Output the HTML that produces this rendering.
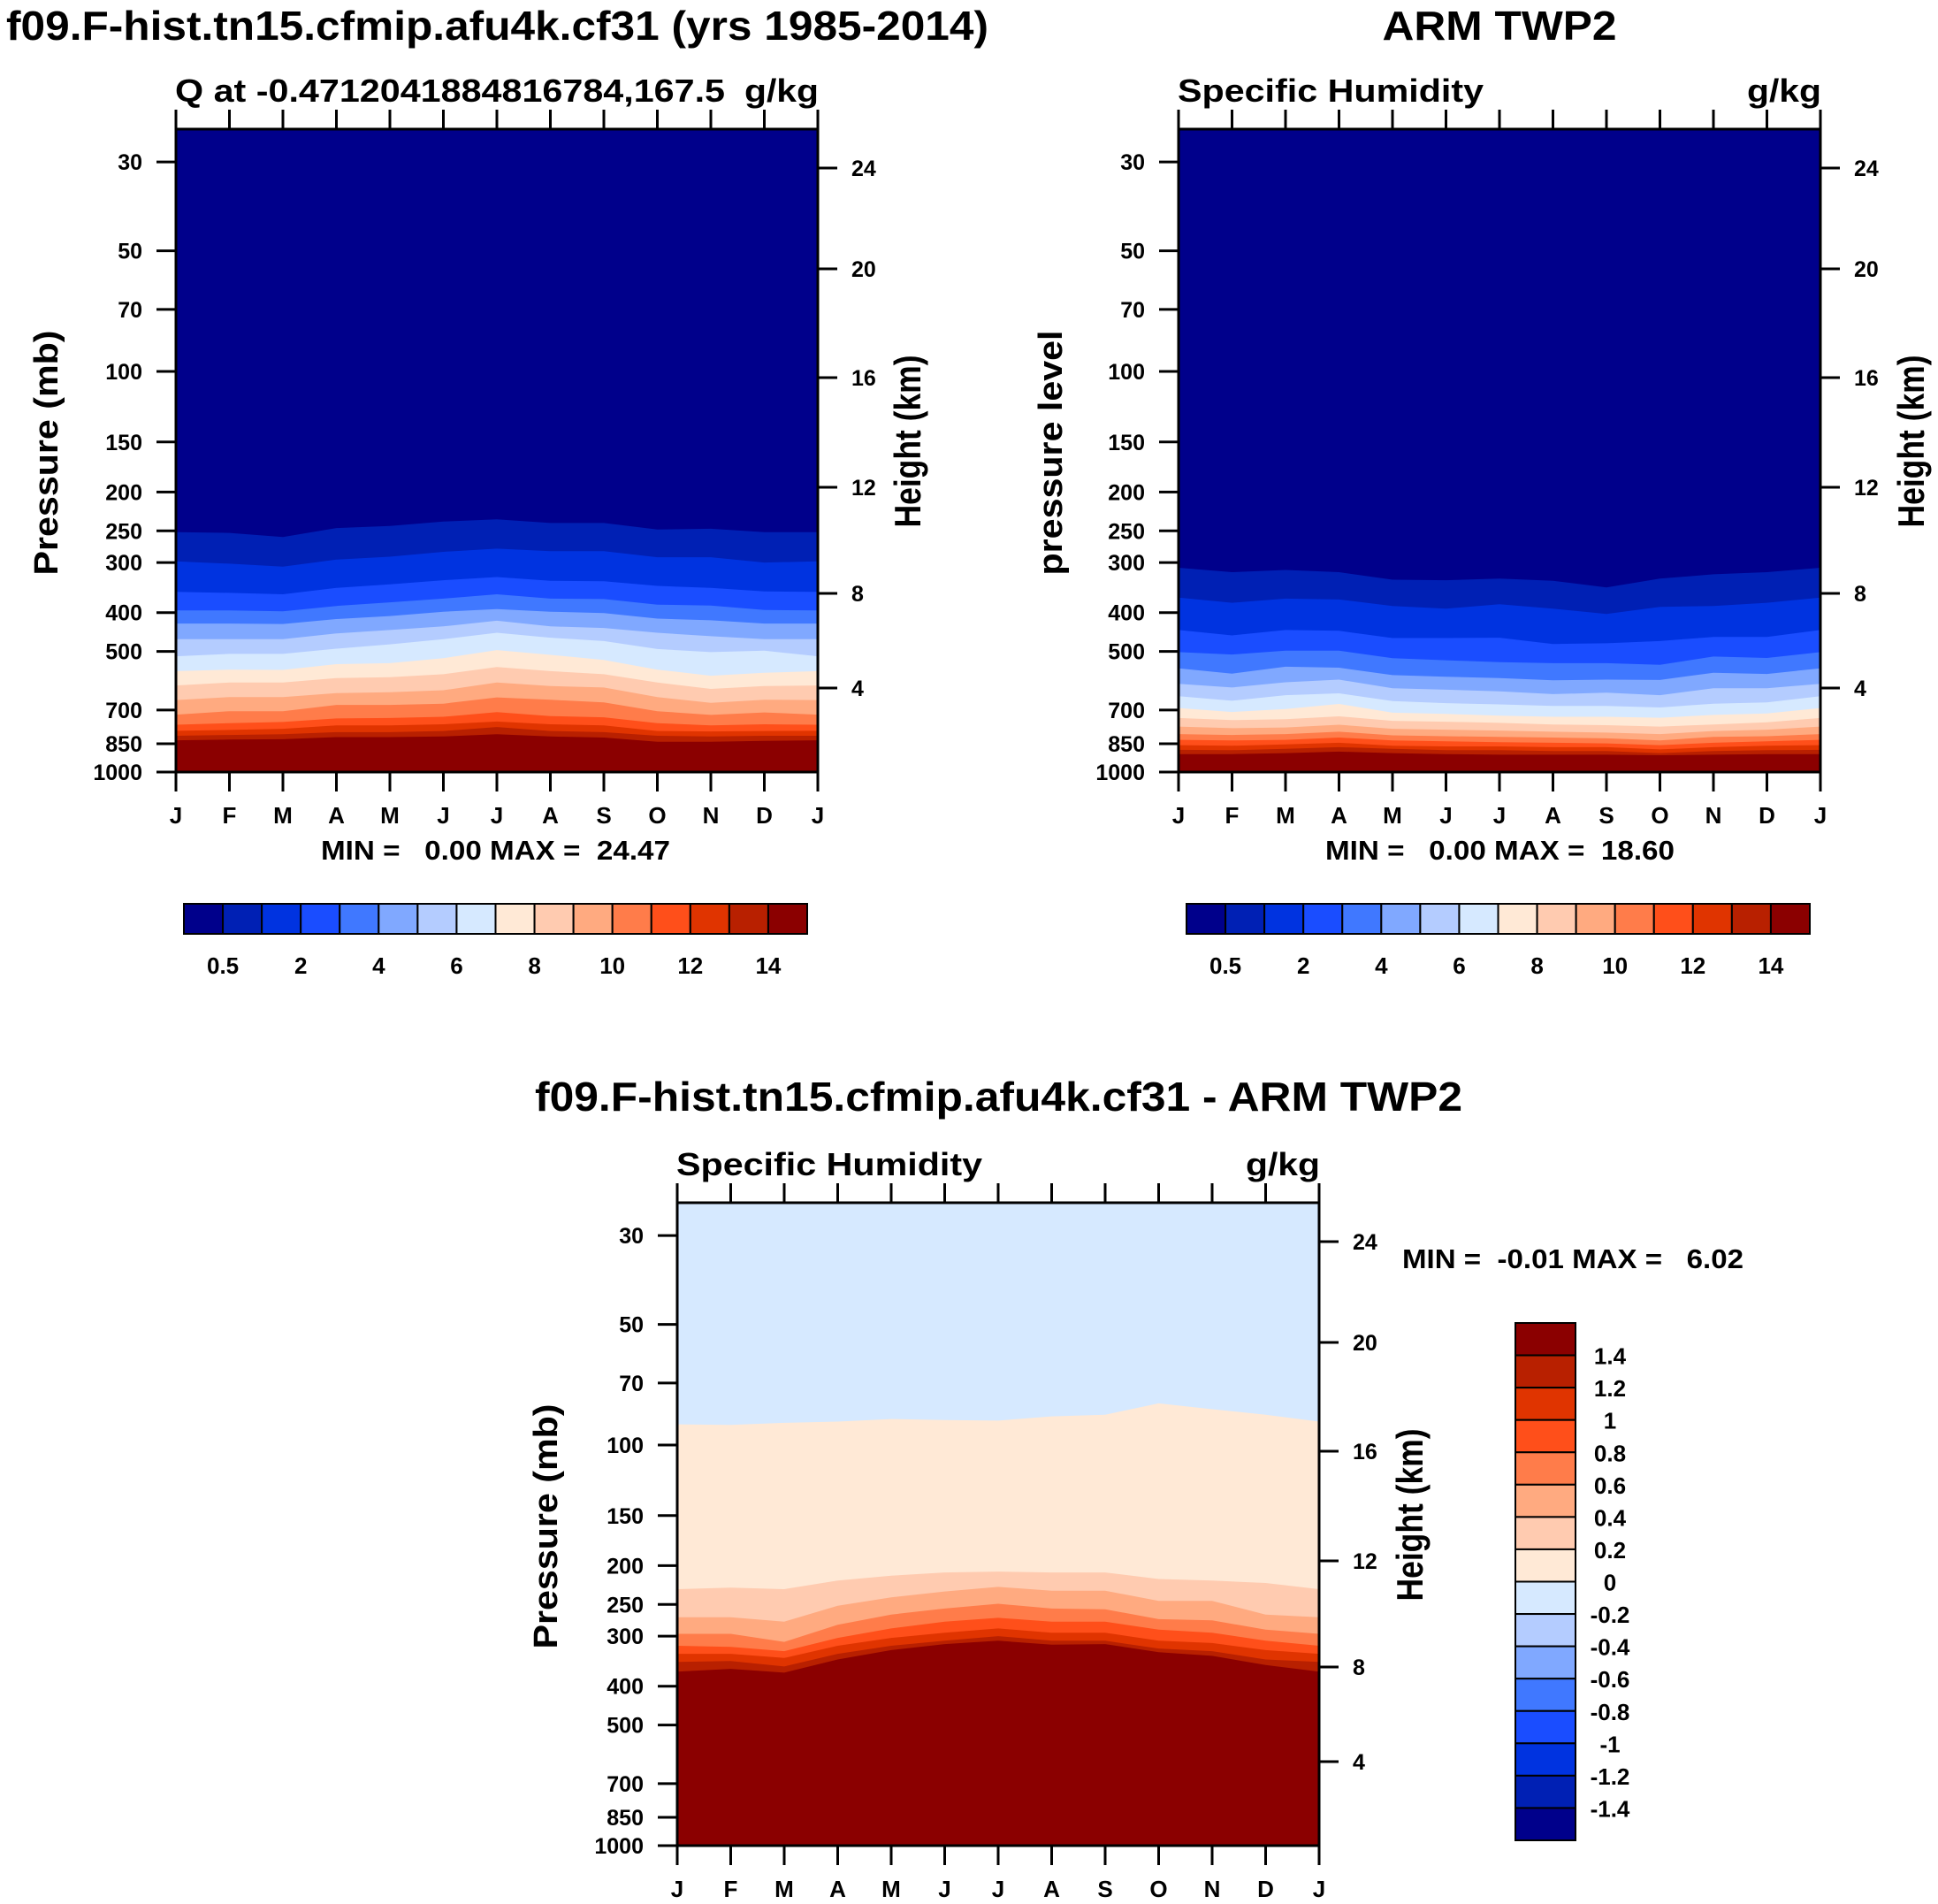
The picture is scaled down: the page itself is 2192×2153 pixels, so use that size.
<!DOCTYPE html>
<html><head><meta charset="utf-8"><style>
html,body{margin:0;padding:0;background:#fff;}
svg{display:block;font-family:"Liberation Sans",sans-serif;font-weight:bold;}
text{white-space:pre;}
</style></head><body>
<svg id="fig" width="2192" height="2153" viewBox="0 0 2192 2153" xmlns="http://www.w3.org/2000/svg"></svg>
<script>
const months = ["J","F","M","A","M","J","J","A","S","O","N","D","J"];
const pressureTicks = [30,50,70,100,150,200,250,300,400,500,700,850,1000];
const heightTicks = [24,20,16,12,8,4];
const palette = ["#00008b","#0020b4","#0033e0","#1a4dff","#4078ff","#80a8ff","#b4ccff","#d6e9ff","#ffe9d6","#ffcbb0","#ffaa80","#ff7c4a","#ff4f1a","#e03400","#b82000","#8b0000"];
const levelsQ = [0.5,1,2,3,4,5,6,7,8,9,10,11,12,13,14];
const cbLabelsQ = ["0.5","2","4","6","8","10","12","14"];
const levelsDiff = ["1.4","1.2","1","0.8","0.6","0.4","0.2","0","-0.2","-0.4","-0.6","-0.8","-1","-1.2","-1.4"];
// Model contour boundary pressures (mb) per month, one array per level
const model = [
[252,253,259,246,243,237,234,239,239,248,247,252,252],
[298,302,307,295,290,282,277,281,281,291,291,300,298],
[355,357,360,347,340,332,326,333,334,343,347,354,355],
[395,395,397,385,377,369,360,369,370,382,384,394,395],
[426,426,427,415,408,398,392,398,401,414,418,426,426],
[466,466,466,451,442,433,419,433,437,449,458,466,466],
[514,507,507,492,480,466,449,462,471,493,502,498,514],
[560,555,556,538,535,520,496,510,525,555,575,565,560],
[608,598,598,583,580,570,547,560,570,598,620,610,608],
[661,650,650,635,632,625,598,610,615,650,672,660,661],
[719,705,705,680,680,675,651,660,670,705,720,710,719],
[762,755,750,735,733,728,709,725,730,755,765,760,762],
[789,785,780,765,765,760,748,760,765,790,792,790,789],
[812,808,805,795,795,790,772,790,795,812,815,812,812],
[833,830,828,818,818,815,805,815,820,840,840,836,833]];
// ARM TWP2 boundaries
const obs = [
[309,317,313,317,331,332,329,333,346,329,321,317,309],
[367,378,369,371,385,391,381,391,403,387,385,378,367],
[442,456,442,444,463,463,462,479,477,471,460,460,442],
[502,509,498,498,520,526,532,535,535,540,515,519,502],
[551,568,546,549,573,578,583,590,588,589,565,569,551],
[602,615,597,588,618,623,629,639,634,643,618,618,602],
[647,664,643,636,665,673,678,684,684,690,675,670,647],
[692,708,696,676,711,716,723,728,728,732,720,714,692],
[733,742,738,726,745,749,754,761,764,770,761,751,733],
[770,777,774,762,780,784,788,793,797,804,790,784,770],
[804,808,804,793,810,814,817,820,824,834,817,814,804],
[831,834,831,820,834,838,842,845,848,857,845,838,831],
[857,860,853,845,860,863,863,867,867,878,867,860,857],
[880,882,875,867,875,882,882,886,886,897,886,882,880],
[902,902,897,889,897,902,905,905,905,908,905,902,902]];
// Difference boundaries for levels 0,0.2,...,1.4
const diff = [
[88.8,89.1,88,87.4,86.1,86.6,86.9,84.8,84,78.7,81.4,84,87.4],
[229,227,229,218,212,208,207,208,208,216,218,221,229],
[269,269,276,252,240,232,226,231,231,245,245,265,269],
[296,296,310,281,265,256,249,256,257,272,274,289,296],
[317,319,327,303,287,276,270,276,276,289,294,308,317],
[332,332,340,317,303,294,287,294,294,308,312,325,332],
[348,346,357,332,317,308,300,308,308,322,327,343,348],
[368,362,370,343,325,314,308,315,314,329,336,354,368]];

const NS="http://www.w3.org/2000/svg";
const svg=document.getElementById('fig');
function el(tag,attrs,parent,txt){const e=document.createElementNS(NS,tag);for(const k in attrs)e.setAttribute(k,attrs[k]);if(txt!==undefined)e.textContent=txt;(parent||svg).appendChild(e);return e;}
function txt(x,y,s,size,anchor,name,len,parent,rot){
  const a={x:x,y:y,'font-size':size,'text-anchor':anchor||'start'};
  if(len){a.textLength=len;a.lengthAdjust='spacingAndGlyphs';}
  if(rot)a.transform='rotate(-90 '+x+' '+y+')';
  const t=el('text',a,parent,s);
  
  
  return t;
}
const W=726,H=727,DEC=H/453;
function drawPlot(id,x0,y0,bounds,baseIdx,firstIdx,yTitle,yTitleX,hTitleX){
  const g=el('g',{});
  
  
  const xs=i=>x0+i*W/12;
  const ys=p=>y0+H-Math.log10(1000/p)/DEC*H;
  const cp=el('clipPath',{id:'clip-'+id},g);
  el('rect',{x:x0,y:y0,width:W,height:H},cp);
  const fg=el('g',{'clip-path':'url(#clip-'+id+')'},g);
  const bg=el('rect',{x:x0,y:y0,width:W,height:H,fill:palette[baseIdx]},fg);
  
  
  bounds.forEach((arr,k)=>{
    let pts=arr.map((p,i)=>xs(i).toFixed(1)+','+ys(p).toFixed(1));
    pts.push(xs(12)+','+(y0+H+5));pts.push(xs(0)+','+(y0+H+5));
    const pg=el('polygon',{points:pts.join(' '),fill:palette[firstIdx+k]},fg);
    
    
  });
  const fr=el('rect',{x:x0,y:y0,width:W,height:H,fill:'none',stroke:'#000','stroke-width':3},g);
  
  
  months.forEach((m,i)=>{
    el('line',{x1:xs(i),y1:y0,x2:xs(i),y2:y0-22,stroke:'#000','stroke-width':3},g);
    el('line',{x1:xs(i),y1:y0+H,x2:xs(i),y2:y0+H+22,stroke:'#000','stroke-width':3},g);
    txt(xs(i),y0+H+58,m,26,'middle','month-label',null,g);
  });
  pressureTicks.forEach(p=>{
    el('line',{x1:x0,y1:ys(p),x2:x0-22,y2:ys(p),stroke:'#000','stroke-width':3},g);
    txt(x0-38,ys(p)+9,String(p),25,'end','pressure-tick-label',null,g);
  });
  const hOff=[44,158,281,405,525,632];
  heightTicks.forEach((h,i)=>{
    el('line',{x1:x0+W,y1:y0+hOff[i],x2:x0+W+22,y2:y0+hOff[i],stroke:'#000','stroke-width':3},g);
    txt(x0+W+38,y0+hOff[i]+9,String(h),25,'start','height-tick-label',null,g);
  });
  txt(yTitleX,y0+366,yTitle,38,'middle','y-axis-title',277,g,true);
  txt(hTitleX,y0+353,'Height (km)',42,'middle','height-axis-title',195,g,true);
}
function hColorbar(x0,y0,name){
  const g=el('g',{});
  
  
  const bw=(913-208)/16;
  palette.forEach((c,i)=>{
    const r=el('rect',{x:x0+i*bw,y:y0,width:bw,height:34,fill:c,stroke:'#000','stroke-width':2},g);
    
    
  });
  cbLabelsQ.forEach((s,j)=>{
    const i=2*j+1;
    txt(x0+i*bw,y0+79,s,26,'middle','colorbar-label',null,g);
  });
}
// Top-left
txt(7,45,'f09.F-hist.tn15.cfmip.afu4k.cf31 (yrs 1985-2014)',46,'start','main-title-left',1111);
txt(198,115,'Q at -0.4712041884816784,167.5',36,'start','subtitle-left',622);
txt(926,115,'g/kg',36,'end','units-left',84);
drawPlot('model-plot',199,146,model,0,1,'Pressure (mb)',65,1041);
txt(363,972,'MIN =   0.00 MAX =  24.47',31,'start','minmax-left',395);
hColorbar(208,1022,'colorbar-left');
// Top-right
txt(1696,45,'ARM TWP2',46,'middle','main-title-right',265);
txt(1332,115,'Specific Humidity',36,'start','subtitle-right',346);
txt(2060,115,'g/kg',36,'end','units-right',84);
drawPlot('obs-plot',1333,146,obs,0,1,'pressure level',1201,2176);
txt(1499,972,'MIN =   0.00 MAX =  18.60',31,'start','minmax-right',395);
hColorbar(1342,1022,'colorbar-right');
// Bottom diff
txt(605,1256,'f09.F-hist.tn15.cfmip.afu4k.cf31 - ARM TWP2',46,'start','main-title-diff',1049);
txt(765,1329,'Specific Humidity',36,'start','subtitle-diff',346);
txt(1493,1329,'g/kg',36,'end','units-diff',84);
drawPlot('diff-plot',766,1360,diff,7,8,'Pressure (mb)',630,1609);
txt(1586,1434,'MIN =  -0.01 MAX =   6.02',31,'start','minmax-diff',386);
(function(){
  const g=el('g',{});
  
  
  const bh=(2081-1496)/16;
  for(let i=0;i<16;i++){
    const r=el('rect',{x:1714,y:1496+i*bh,width:68,height:bh,fill:palette[15-i],stroke:'#000','stroke-width':2},g);
    
    
  }
  levelsDiff.forEach((s,i)=>{
    txt(1821,1496+(i+1)*bh+10,s,26,'middle','colorbar-label',null,g);
  });
})();
</script>
</body></html>
